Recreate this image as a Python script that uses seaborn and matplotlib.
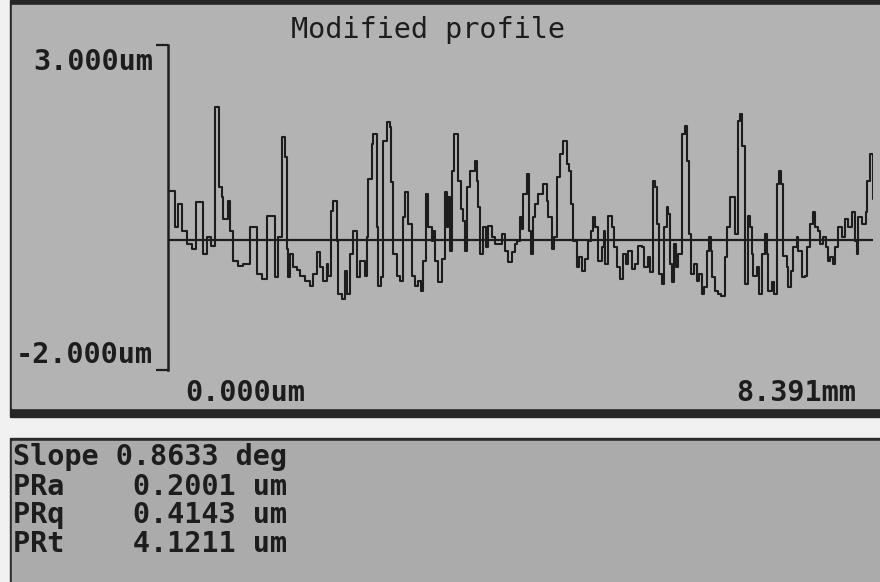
import matplotlib
matplotlib.use('Agg')
import pandas as pd
import matplotlib.pyplot as plt
import seaborn as sns
from matplotlib.patches import Rectangle

# Profile: position along the scan (mm) and height (um)
position_mm = [
    0.000, 0.083, 0.119, 0.167, 0.226, 0.286, 0.333, 0.417, 0.464, 0.512,
    0.559, 0.607, 0.643, 0.655, 0.714, 0.738, 0.774, 0.833, 0.893, 0.976,
    1.059, 1.119, 1.178, 1.273, 1.309, 1.357, 1.393, 1.416, 1.428, 1.452,
    1.488, 1.535, 1.571, 1.631, 1.690, 1.726, 1.773, 1.809, 1.845, 1.892,
    1.904, 1.940, 1.964, 2.011, 2.023, 2.071, 2.107, 2.130, 2.166, 2.202,
    2.249, 2.285, 2.345, 2.369, 2.380, 2.428, 2.440, 2.488, 2.499, 2.535,
    2.559, 2.607, 2.642, 2.654, 2.678, 2.726, 2.761, 2.797, 2.821, 2.856,
    2.904, 2.940, 2.976, 3.011, 3.035, 3.071, 3.095, 3.142, 3.154, 3.178,
    3.214, 3.261, 3.297, 3.321, 3.333, 3.356, 3.380, 3.404, 3.428, 3.452,
    3.487, 3.511, 3.535, 3.559, 3.594, 3.654, 3.678, 3.690, 3.713, 3.749,
    3.785, 3.809, 3.856, 3.892, 3.975, 4.011, 4.047, 4.094, 4.130, 4.154,
    4.190, 4.213, 4.225, 4.273, 4.297, 4.320, 4.344, 4.368, 4.404, 4.463,
    4.511, 4.523, 4.570, 4.594, 4.630, 4.666, 4.701, 4.749, 4.773, 4.797,
    4.820, 4.868, 4.892, 4.927, 4.963, 4.999, 5.035, 5.058, 5.082, 5.118,
    5.165, 5.189, 5.201, 5.237, 5.285, 5.308, 5.344, 5.380, 5.415, 5.451,
    5.475, 5.523, 5.558, 5.594, 5.642, 5.666, 5.713, 5.737, 5.772, 5.796,
    5.820, 5.844, 5.880, 5.903, 5.939, 5.951, 5.975, 5.999, 6.022, 6.046,
    6.070, 6.118, 6.153, 6.177, 6.201, 6.225, 6.261, 6.296, 6.320, 6.356,
    6.379, 6.415, 6.439, 6.463, 6.475, 6.510, 6.546, 6.582, 6.629, 6.653,
    6.689, 6.748, 6.784, 6.808, 6.832, 6.867, 6.903, 6.927, 6.951, 6.963,
    7.010, 7.034, 7.070, 7.106, 7.129, 7.141, 7.189, 7.213, 7.248, 7.272,
    7.296, 7.320, 7.367, 7.379, 7.415, 7.439, 7.486, 7.498, 7.546, 7.582,
    7.605, 7.641, 7.677, 7.701, 7.736, 7.760, 7.796, 7.831, 7.855, 7.879,
    7.915, 7.939, 7.974, 8.022, 8.058, 8.094, 8.141, 8.177, 8.201, 8.213,
    8.260, 8.308, 8.320, 8.356, 8.391,
]
height_um = [
    0.75, 0.20, 0.55, 0.14, -0.06, -0.14, 0.58, -0.22, 0.05, -0.09,
    2.05, 0.82, 0.66, 0.32, 0.60, 0.14, -0.32, -0.40, -0.37, 0.20,
    -0.52, -0.60, 0.37, -0.57, 0.05, 1.58, 1.28, -0.14, -0.57, -0.22,
    -0.42, -0.46, -0.55, -0.63, -0.71, -0.52, -0.18, -0.42, -0.63, -0.37,
    -0.55, 0.45, 0.60, -0.02, -0.83, -0.91, -0.48, -0.83, -0.22, 0.14,
    -0.57, -0.32, -0.55, 0.05, 0.94, 1.48, 1.63, 0.20, -0.71, -0.57,
    1.52, 1.82, 1.74, 0.89, -0.22, -0.55, -0.63, 0.35, 0.74, 0.25,
    -0.55, -0.71, -0.63, -0.78, -0.32, 0.71, 0.20, -0.02, 0.14, -0.32,
    -0.65, -0.29, 0.74, 0.20, 0.66, -0.17, 1.06, 1.63, 1.63, 0.91,
    0.48, 0.29, -0.17, 0.82, 1.06, 1.22, 0.91, 0.51, -0.22, 0.20,
    -0.11, 0.22, 0.05, -0.06, 0.09, -0.17, -0.34, -0.18, -0.06, -0.02,
    0.35, 0.17, 0.71, 1.02, 0.14, -0.22, 0.35, 0.55, 0.71, 0.86,
    0.60, 0.35, -0.14, 0.05, 0.97, 1.32, 1.52, 1.17, 1.06, 0.55,
    -0.02, -0.42, -0.26, -0.48, -0.29, -0.02, 0.14, 0.35, 0.20, -0.32,
    -0.11, 0.14, -0.37, 0.37, 0.20, -0.11, -0.42, -0.60, -0.22, -0.37,
    -0.17, -0.45, -0.37, -0.09, -0.11, -0.42, -0.26, -0.49, 0.91, 0.82,
    0.25, -0.52, -0.68, 0.20, 0.51, 0.40, -0.37, -0.65, -0.06, -0.42,
    -0.22, 1.63, 1.75, 1.22, 0.09, -0.52, -0.37, -0.63, -0.52, -0.83,
    -0.72, -0.17, 0.05, -0.17, -0.57, -0.78, -0.83, -0.86, -0.26, 0.20,
    0.66, 0.09, 1.83, 1.94, 1.45, -0.68, 0.37, 0.20, -0.22, -0.55,
    -0.42, -0.83, -0.22, 0.09, -0.22, -0.78, -0.65, -0.83, 0.86, 1.06,
    0.86, -0.25, -0.42, -0.72, -0.48, -0.11, 0.05, -0.17, -0.57, -0.55,
    -0.11, 0.25, 0.43, 0.20, 0.14, -0.06, 0.05, -0.11, -0.32, -0.26,
    -0.37, -0.11, 0.20, 0.05, 0.32, 0.20, 0.43, -0.02, -0.22, 0.35,
    0.25, 0.43, 0.91, 1.32, 0.63,
]

y_range_um = [-2.0, 3.0]
scan_length_mm = 8.391
y_labels = ['3.000um', '-2.000um']
x_labels = ['0.000um', '8.391mm']
title = 'Modified profile'
stat_names = ['Slope', 'PRa', 'PRq', 'PRt']
stat_values = ['0.8633', '0.2001', '0.4143', '4.1211']
stat_units = ['deg', 'um', 'um', 'um']

df = pd.DataFrame({'position': position_mm, 'height': height_um})

sns.set_style("white")
plt.rcParams['font.family'] = ['DejaVu Sans Mono']

W, H = 880, 582
ink = '#1d1d1d'
panel = '#b3b3b3'


def fx(px):
    return px / W


def fy(py):
    return 1 - py / H


fig = plt.figure(figsize=(W / 100, H / 100), dpi=100, facecolor='#f1f1f1')

# screen panels: dark frame, grey plot area, white gap, grey readout area
def add_panel(x0, y_top, y_bottom, color):
    fig.patches.append(Rectangle((fx(x0), fy(y_bottom)), 1, fy(y_top) - fy(y_bottom),
                                 transform=fig.transFigure, color=color, zorder=-5))


add_panel(10, 0, 417, '#262626')
add_panel(12, 5, 408, panel)
add_panel(10, 438, H, '#2a2a2a')
add_panel(12, 441, H, '#ababab')

ax = fig.add_axes([fx(168), fy(370), fx(873) - fx(168), fy(45) - fy(370)])
ax.set_zorder(2)
ax.set_facecolor('none')
sns.lineplot(data=df, x='position', y='height', ax=ax, estimator=None, sort=False,
             drawstyle='steps-post', color=ink, linewidth=1.5)
ax.axhline(0, color=ink, linewidth=1.6, zorder=1)
ax.set_xlim(0, scan_length_mm)
ax.set_ylim(*y_range_um)
ax.set_xlabel('')
ax.set_ylabel('')
for side in ['top', 'right', 'bottom']:
    ax.spines[side].set_visible(False)
ax.spines['left'].set_color(ink)
ax.spines['left'].set_linewidth(1.8)
ax.set_xticks([])
ax.set_yticks(y_range_um)
ax.set_yticklabels([])
ax.tick_params(axis='y', direction='out', length=9, width=1.6, color=ink, left=True)

fs = 20.5
fig.text(fx(428), fy(30), title, ha='center', va='center', fontsize=fs, color=ink)
fig.text(fx(153), fy(62), y_labels[0], ha='right', va='center', fontsize=fs,
         fontweight='bold', color=ink)
fig.text(fx(153), fy(355), y_labels[1], ha='right', va='center', fontsize=fs,
         fontweight='bold', color=ink)
fig.text(fx(185), fy(393), x_labels[0], ha='left', va='center', fontsize=fs,
         fontweight='bold', color=ink)
fig.text(fx(856), fy(393), x_labels[1], ha='right', va='center', fontsize=fs,
         fontweight='bold', color=ink)

baselines = [465, 495, 523, 552]
for name, value, unit, base in zip(stat_names, stat_values, stat_units, baselines):
    line = name + (value + ' ' + unit).rjust(16 - len(name))
    fig.text(fx(13), fy(base), line, ha='left', va='baseline', fontsize=fs,
             fontweight='bold', color=ink)

fig.savefig('out.png', dpi=100, facecolor=fig.get_facecolor())
